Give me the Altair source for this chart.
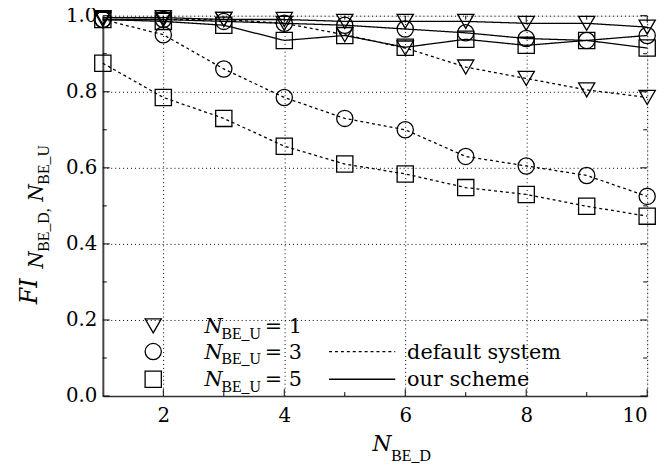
import altair as alt
import pandas as pd

# ---------------- data ----------------
n_be_d = [1, 2, 3, 4, 5, 6, 7, 8, 9, 10]
default_u1 = [0.99, 0.99, 0.99, 0.98, 0.95, 0.915, 0.865, 0.835, 0.805, 0.785]
default_u3 = [0.99, 0.95, 0.86, 0.785, 0.73, 0.70, 0.63, 0.605, 0.58, 0.525]
default_u5 = [0.875, 0.785, 0.73, 0.657, 0.61, 0.584, 0.548, 0.53, 0.499, 0.473]
ours_u1 = [0.995, 0.995, 0.99, 0.99, 0.985, 0.985, 0.985, 0.98, 0.98, 0.97]
ours_u3 = [0.99, 0.99, 0.985, 0.98, 0.975, 0.965, 0.955, 0.94, 0.935, 0.948]
ours_u5 = [0.99, 0.985, 0.975, 0.935, 0.948, 0.917, 0.938, 0.922, 0.935, 0.915]

x_ticks_major = [2, 4, 6, 8, 10]
x_ticks_minor = [3, 5, 7, 9]
y_ticks_major = [0.0, 0.2, 0.4, 0.6, 0.8, 1.0]
y_ticks_minor = [0.1, 0.3, 0.5, 0.7, 0.9]

series = [
    ("default", "1", default_u1), ("default", "3", default_u3), ("default", "5", default_u5),
    ("ours", "1", ours_u1), ("ours", "3", ours_u3), ("ours", "5", ours_u5),
]
rows = []
for scheme, u, vals in series:
    for xv, yv in zip(n_be_d, vals):
        rows.append({"x": xv, "y": yv, "scheme": scheme, "u": u, "key": scheme + u})
df = pd.DataFrame(rows)

W, H = 551, 385
FONT = "DejaVu Serif"
SUB = "Liberation Serif"
LBL = 20

xs = alt.Scale(domain=[1, 10], nice=False, zero=False)
ys = alt.Scale(domain=[0, 1], nice=False)

base = alt.Chart(df)

lines = base.mark_line(color="black", strokeWidth=1.3).encode(
    x=alt.X("x:Q", scale=xs, axis=alt.Axis(values=x_ticks_major, format="d", title=None,
                                           grid=True, gridDash=[1, 3], gridColor="black",
                                           gridWidth=1, ticks=False, labelFont=FONT,
                                           labelFontSize=LBL, labelColor="black", labelPadding=10,
                                           domainColor="#333", domainWidth=1.5)),
    y=alt.Y("y:Q", scale=ys, axis=alt.Axis(values=y_ticks_major, format=".1f", title=None,
                                           grid=True, gridDash=[1, 3], gridColor="black",
                                           gridWidth=1, ticks=False, labelFont=FONT,
                                           labelFontSize=LBL, labelColor="black", labelPadding=6,
                                           domainColor="#444", domainWidth=2)),
    detail="key:N",
    strokeDash=alt.StrokeDash("scheme:N", scale=alt.Scale(domain=["default", "ours"],
                                                           range=[[3, 3], [1, 0]]), legend=None),
)

points = base.mark_point(filled=False, color="black", size=270, strokeWidth=1.3, opacity=1).encode(
    x=alt.X("x:Q", scale=xs),
    y=alt.Y("y:Q", scale=ys),
    shape=alt.Shape("u:N", scale=alt.Scale(domain=["1", "3", "5"],
                                           range=["triangle-down", "circle", "square"]), legend=None),
)

# inward ticks
def yticks(vals, length, right=False):
    d = pd.DataFrame({"t": vals})
    x0 = W - length if right else 0
    return alt.Chart(d).mark_rule(color="black", strokeWidth=1).encode(
        y=alt.Y("t:Q", scale=ys), x=alt.value(x0), x2=alt.value(x0 + length))

def xticks(vals, length, top=False):
    d = pd.DataFrame({"t": vals})
    y0 = 0 if top else H - length
    return alt.Chart(d).mark_rule(color="black", strokeWidth=1).encode(
        x=alt.X("t:Q", scale=xs), y=alt.value(y0), y2=alt.value(y0 + length))

ticks = [yticks(y_ticks_major, 7), yticks(y_ticks_minor, 4),
         yticks(y_ticks_major, 7, True), yticks(y_ticks_minor, 4, True),
         xticks(x_ticks_major, 7), xticks(x_ticks_minor, 4),
         xticks(x_ticks_major, 7, True), xticks(x_ticks_minor, 4, True)]

one = pd.DataFrame({"a": [0]})

def txt(s, x, y, size, italic=False, angle=0, font=FONT, align="left", baseline="alphabetic"):
    kw = dict(font=font, fontSize=size, color="black", align=align, baseline=baseline)
    if italic:
        kw["fontStyle"] = "italic"
    if angle:
        kw["angle"] = angle
    return alt.Chart(one).mark_text(text=s, **kw).encode(x=alt.value(x), y=alt.value(y))

# legend
legend = []
for i, (shape, num) in enumerate([("triangle-down", "1"), ("circle", "3"), ("square", "5")]):
    yy = [314, 340, 368][i]
    legend.append(alt.Chart(one).mark_point(shape=shape, filled=False, color="black", size=270,
                                            strokeWidth=1.3, opacity=1)
                  .encode(x=alt.value(51), y=alt.value(yy)))
    legend.append(txt("N", 103, yy + 7, 21, italic=True))
    legend.append(txt("BE_U", 120, yy + 13, 16, font=SUB))
    legend.append(txt("= " + num, 164, yy + 7, 21))

legend.append(alt.Chart(one).mark_rule(color="black", strokeWidth=1.3, strokeDash=[3, 3])
              .encode(x=alt.value(229), x2=alt.value(296), y=alt.value(340)))
legend.append(alt.Chart(one).mark_rule(color="black", strokeWidth=1.3)
              .encode(x=alt.value(229), x2=alt.value(296), y=alt.value(368)))
legend.append(txt("default system", 308, 347, 21))
legend.append(txt("our scheme", 308, 375, 21))

# axis titles
titles = [
    txt("N", 273, 441, 22, italic=True),
    txt("BE_D", 292, 451, 16, font=SUB),
    txt("FI", -67, 292, 24, italic=True, angle=270),
    txt("N", -61, 256, 20, italic=True, angle=270),
    txt("BE_D,", -55, 239, 16, angle=270, font=SUB),
    txt("N", -61, 188, 20, italic=True, angle=270),
    txt("BE_U", -55, 171, 16, angle=270, font=SUB),
]

chart = alt.layer(lines, points, *ticks, *legend, *titles).properties(
    width=W, height=H,
    autosize=alt.AutoSizeParams(type="none"),
    padding={"left": 96, "top": 5, "right": 15, "bottom": 66},
).configure_view(stroke="black", strokeWidth=1.2).configure(background="white")

chart.save("out.html", embed_options={"renderer": "svg", "actions": False})
